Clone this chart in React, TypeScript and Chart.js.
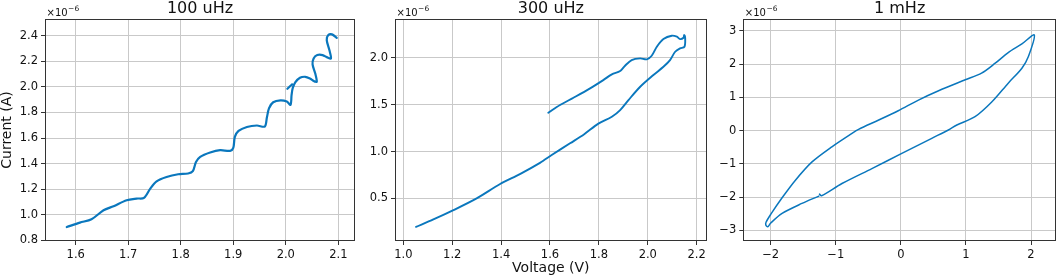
import React, { useEffect, useRef } from "react";
import { Chart, registerables } from "chart.js";

Chart.register(...registerables);

// ---------- DATA (current values in units of 1e-6 A) ----------
const voltage100 = [
  1.583, 1.608, 1.63, 1.653, 1.672, 1.697, 1.716, 1.73, 1.742, 1.754, 1.773, 1.795, 1.814, 1.823,
  1.829, 1.837, 1.856, 1.875, 1.894, 1.9, 1.903, 1.91, 1.926, 1.945, 1.96, 1.964, 1.968, 1.976,
  1.99, 2.002, 2.009, 2.011, 2.013, 2.018, 2.027, 2.037, 2.046, 2.054, 2.059, 2.056, 2.051, 2.053,
  2.06, 2.07, 2.079, 2.086, 2.083, 2.078, 2.081, 2.088, 2.097,
];
const current100 = [
  0.904, 0.939, 0.965, 1.035, 1.067, 1.114, 1.127, 1.132, 1.205, 1.262, 1.296, 1.317, 1.323, 1.341,
  1.413, 1.453, 1.487, 1.505, 1.5, 1.523, 1.609, 1.656, 1.687, 1.698, 1.69, 1.76, 1.832, 1.88,
  1.895, 1.885, 1.86, 1.935, 1.988, 2.035, 2.071, 2.079, 2.066, 2.045, 2.04, 2.106, 2.176, 2.223,
  2.249, 2.249, 2.231, 2.223, 2.288, 2.366, 2.405, 2.411, 2.384,
];
const voltage100Start = [2.003, 2.008, 2.012];
const current100Start = [1.985, 2.005, 2.02];

const voltage300 = [
  1.593, 1.641, 1.696, 1.764, 1.818, 1.853, 1.887, 1.907, 1.934, 1.969, 1.996, 2.016, 2.037, 2.064,
  2.098, 2.119, 2.132, 2.146, 2.149, 2.153, 2.15, 2.132, 2.112, 2.091, 2.064, 2.023, 1.969, 1.921,
  1.887, 1.853, 1.798, 1.74, 1.682, 1.607, 1.559, 1.477, 1.396, 1.3, 1.205, 1.123, 1.052,
];
const current300 = [
  1.414, 1.496, 1.574, 1.674, 1.762, 1.823, 1.858, 1.915, 1.975, 1.993, 1.983, 2.021, 2.117, 2.199,
  2.235, 2.224, 2.199, 2.213, 2.242, 2.207, 2.117, 2.1, 2.064, 1.975, 1.904, 1.816, 1.691, 1.549,
  1.442, 1.371, 1.298, 1.185, 1.088, 0.963, 0.88, 0.76, 0.654, 0.501, 0.376, 0.277, 0.198,
];

const voltage1m = [
  -1.26, -1.52, -1.825, -2.0, -2.045, -2.075, -2.07, -2.0, -1.825, -1.62, -1.365, -1.06, -0.75,
  -0.65, -0.34, -0.04, 0.27, 0.58, 0.99, 1.24, 1.45, 1.65, 1.86, 2.05, 1.96, 1.86, 1.65, 1.4, 1.14,
  0.86, 0.73, 0.475, 0.015, -0.445, -0.905, -1.22, -1.25,
];
const current1m = [
  -1.97, -2.19, -2.49, -2.78, -2.89, -2.84, -2.75, -2.52, -2.02, -1.49, -0.94, -0.485, -0.08,
  0.04, 0.32, 0.6, 0.92, 1.2, 1.53, 1.73, 2.03, 2.35, 2.61, 2.88, 2.23, 1.88, 1.43, 0.87, 0.42,
  0.17, 0.02, -0.23, -0.685, -1.14, -1.59, -1.96, -1.91,
];

const xTicks100 = [1.6, 1.7, 1.8, 1.9, 2.0, 2.1];
const yTicks100 = [0.8, 1.0, 1.2, 1.4, 1.6, 1.8, 2.0, 2.2, 2.4];
const xTicks300 = [1.0, 1.2, 1.4, 1.6, 1.8, 2.0, 2.2];
const yTicks300 = [0.5, 1.0, 1.5, 2.0];
const xTicks1m = [-2, -1, 0, 1, 2];
const yTicks1m = [-3, -2, -1, 0, 1, 2, 3];

const titles = ["100 uHz", "300 uHz", "1 mHz"];
const xAxisLabel = "Voltage (V)";
const yAxisLabel = "Current (A)";
const offsetLabel = "×10";
const offsetExp = "−6";

// ---------- STYLE ----------
const FONT = "DejaVu Sans";
const LINE = "#0a77bd";
const TEXT = "#111111";
const GRID = "#c9c9c9";

const fmt1 = (v: number) => v.toFixed(1);
const fmtInt = (v: number) => String(Math.round(v)).replace("-", "\u2212");

type PanelCfg = {
  left: number;
  width: number;
  yAxisWidth: number;
  padRight: number;
  title: string;
  series: { xs: number[]; ys: number[] }[];
  xRange: [number, number];
  yRange: [number, number];
  xTicks: number[];
  yTicks: number[];
  fmt: (v: number) => string;
  lineWidth: number;
  xTitle?: string;
  yTitle?: string;
};

const panels: PanelCfg[] = [
  {
    left: 0, width: 360, yAxisWidth: 45, padRight: 5, title: titles[0],
    series: [{ xs: voltage100, ys: current100 }, { xs: voltage100Start, ys: current100Start }],
    xRange: [1.5415, 2.1318], yRange: [0.795, 2.531],
    xTicks: xTicks100, yTicks: yTicks100, fmt: fmt1, lineWidth: 2.2, yTitle: yAxisLabel,
  },
  {
    left: 360, width: 350, yAxisWidth: 35, padRight: 3.3, title: titles[1],
    series: [{ xs: voltage300, ys: current300 }],
    xRange: [0.966, 2.241], yRange: [0.047, 2.413],
    xTicks: xTicks300, yTicks: yTicks300, fmt: fmt1, lineWidth: 1.9, xTitle: xAxisLabel,
  },
  {
    left: 710, width: 349, yAxisWidth: 33.3, padRight: 3, title: titles[2],
    series: [{ xs: voltage1m, ys: current1m }],
    xRange: [-2.421, 2.384], yRange: [-3.32, 3.36],
    xTicks: xTicks1m, yTicks: yTicks1m, fmt: fmtInt, lineWidth: 1.5,
  },
];

const framePlugin = {
  id: "frameAndOffset",
  afterDatasetsDraw(chart: any) {
    const { ctx, chartArea } = chart;
    const l = Math.round(chartArea.left) + 0.5;
    const t = Math.round(chartArea.top) + 0.5;
    const r = Math.round(chartArea.right) - 0.5;
    const b = Math.round(chartArea.bottom) - 0.5;
    ctx.save();
    ctx.strokeStyle = "#333";
    ctx.lineWidth = 1;
    ctx.strokeRect(l, t, r - l, b - t);
    ctx.fillStyle = TEXT;
    ctx.textBaseline = "alphabetic";
    ctx.textAlign = "left";
    ctx.font = `10px "${FONT}"`;
    const x0 = chartArea.left + 1.5;
    const y0 = chartArea.top - 3.5;
    ctx.fillText(offsetLabel, x0, y0);
    const w = ctx.measureText(offsetLabel).width;
    ctx.font = `7.5px "${FONT}"`;
    ctx.fillText(offsetExp, x0 + w + 0.5, y0 - 4.5);
    ctx.restore();
  },
};

function PanelChart({ cfg }: { cfg: PanelCfg }) {
  const ref = useRef<HTMLCanvasElement | null>(null);
  useEffect(() => {
    if (!ref.current) return;
    const chart = new Chart(ref.current, {
      type: "scatter",
      data: {
        datasets: cfg.series.map((s) => ({
          data: s.xs.map((x, i) => ({ x, y: s.ys[i] })),
          showLine: true,
          borderColor: LINE,
          backgroundColor: LINE,
          borderWidth: cfg.lineWidth,
          pointRadius: 0,
          tension: 0.3,
          borderJoinStyle: "round" as const,
          borderCapStyle: "round" as const,
        })),
      },
      options: {
        responsive: false,
        animation: false,
        devicePixelRatio: 1,
        layout: { padding: { left: 0, right: cfg.padRight, top: 0, bottom: 0 } },
        plugins: {
          legend: { display: false },
          tooltip: { enabled: false },
          title: {
            display: true,
            text: cfg.title,
            fullSize: false,
            color: TEXT,
            font: { family: FONT, size: 16, weight: "normal", lineHeight: 1.1 },
            padding: { top: 0, bottom: 1.4 },
          },
        },
        scales: {
          x: {
            type: "linear",
            min: cfg.xRange[0],
            max: cfg.xRange[1],
            afterBuildTicks: (s: any) => {
              s.ticks = cfg.xTicks.map((v) => ({ value: v }));
            },
            afterFit: (s: any) => {
              s.height = 38;
            },
            ticks: {
              autoSkip: false,
              maxRotation: 0,
              padding: 3,
              color: TEXT,
              font: { family: FONT, size: 11.5 },
              callback: (v: any) => cfg.fmt(Number(v)),
            },
            grid: { color: GRID, lineWidth: 1, drawTicks: true, tickLength: 4, tickColor: "#333" },
            border: { display: false },
            title: {
              display: !!cfg.xTitle,
              text: cfg.xTitle || "",
              color: TEXT,
              font: { family: FONT, size: 14, lineHeight: 1.1 },
              padding: { top: 0, bottom: 2.5 },
            },
          },
          y: {
            type: "linear",
            min: cfg.yRange[0],
            max: cfg.yRange[1],
            afterBuildTicks: (s: any) => {
              s.ticks = cfg.yTicks.map((v) => ({ value: v }));
            },
            afterFit: (s: any) => {
              s.width = cfg.yAxisWidth;
            },
            ticks: {
              autoSkip: false,
              padding: 3,
              color: TEXT,
              font: { family: FONT, size: 11.5 },
              callback: (v: any) => cfg.fmt(Number(v)),
            },
            grid: { color: GRID, lineWidth: 1, drawTicks: true, tickLength: 4, tickColor: "#333" },
            border: { display: false },
            title: {
              display: !!cfg.yTitle,
              text: cfg.yTitle || "",
              color: TEXT,
              font: { family: FONT, size: 14, lineHeight: 1.1 },
              padding: { top: 0, bottom: 0 },
            },
          },
        },
      } as any,
      plugins: [framePlugin],
    });
    return () => chart.destroy();
  }, [cfg]);
  return (
    <canvas
      ref={ref}
      width={cfg.width}
      height={279}
      style={{ position: "absolute", left: cfg.left, top: 0, width: cfg.width, height: 279 }}
    />
  );
}

export default function App() {
  return (
    <div style={{ position: "absolute", left: 0, top: 0, width: 1059, height: 279, background: "#fff" }}>
      {panels.map((p, i) => (
        <PanelChart key={i} cfg={p} />
      ))}
    </div>
  );
}
